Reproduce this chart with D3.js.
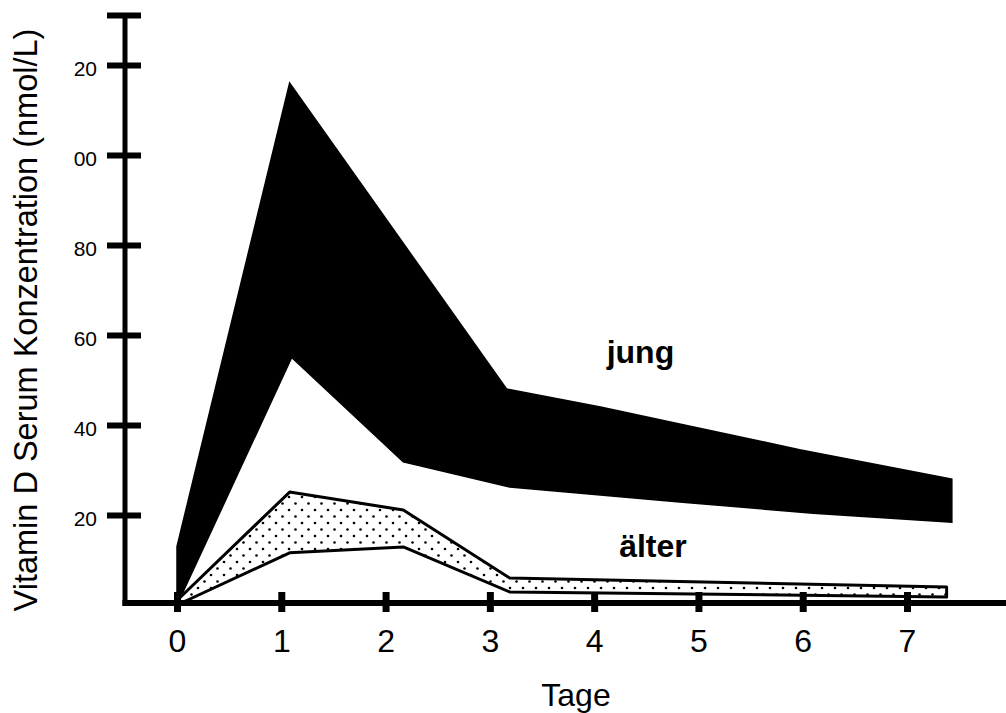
<!DOCTYPE html>
<html><head><meta charset="utf-8">
<script src="https://cdn.jsdelivr.net/npm/d3@7"></script>
<style>body{margin:0;background:#fff}</style>
</head><body><svg id="c" width="1006" height="713"></svg>
<script>
// ---- data ----
const xTickValues = [0, 1, 2, 3, 4, 5, 6, 7];
const yTickValues = [20, 40, 60, 80, 100, 120];
const yTickLabels = ["20", "40", "60", "80", "00", "20"];
const yAxisTop = 131;

const jungUpperDays = [0, 0, 1.08, 3.16, 4.06, 5.01, 5.97, 7.43];
const jungUpperVals = [0, 13, 116, 48, 44, 39.3, 34.5, 28];
const jungLowerDays = [0, 1.1, 2.17, 3.19, 4.82, 6.1, 7.43];
const jungLowerVals = [0, 55, 31.8, 26.2, 22.9, 20.4, 18.4];

const alterUpperDays = [0, 1.08, 2.17, 3.19, 7.38];
const alterUpperVals = [1, 25.1, 21.1, 6, 4];
const alterLowerDays = [0, 1.08, 2.17, 3.19, 7.38];
const alterLowerVals = [0, 11.6, 12.9, 2.9, 1.8];

const labels = [
  {text: "jung", day: 4.12, val: 53.8},
  {text: "älter", day: 4.24, val: 10.7}
];

// ---- drawing ----
const W = 1006, H = 713;
const svg = d3.select("#c");
const x = d3.scaleLinear().domain([0, 7]).range([177, 907]);
const y = d3.scaleLinear().domain([0, 120]).range([605, 65]);
const axisX = 125;
const font = "'Liberation Sans', Arial, sans-serif";

const defs = svg.append("defs");
const pat = defs.append("pattern").attr("id", "dots").attr("patternUnits", "userSpaceOnUse")
  .attr("width", 13).attr("height", 13);
pat.append("rect").attr("width", 13).attr("height", 13).attr("fill", "#fff");
pat.append("circle").attr("cx", 3).attr("cy", 3).attr("r", 1.3).attr("fill", "#000");
pat.append("circle").attr("cx", 9.5).attr("cy", 9.5).attr("r", 1.3).attr("fill", "#000");

const line = d3.line().x(d => x(d[0])).y(d => y(d[1]));
function poly(ud, uv, ld, lv) {
  const up = ud.map((d, i) => [d, uv[i]]);
  const lo = ld.map((d, i) => [d, lv[i]]).reverse();
  return line(up.concat(lo)) + "Z";
}

// jung band
svg.append("path").attr("d", poly(jungUpperDays, jungUpperVals, jungLowerDays, jungLowerVals))
  .attr("fill", "#000").attr("stroke", "#000").attr("stroke-width", 1.5).attr("stroke-linejoin", "miter");

// älter band
svg.append("path").attr("d", poly(alterUpperDays, alterUpperVals, alterLowerDays, alterLowerVals))
  .attr("fill", "url(#dots)").attr("stroke", "#000").attr("stroke-width", 3).attr("stroke-linejoin", "round");

// Y axis
svg.append("line").attr("x1", axisX).attr("x2", axisX).attr("y1", y(yAxisTop)).attr("y2", y(0) + 1)
  .attr("stroke", "#000").attr("stroke-width", 5);
svg.append("line").attr("x1", axisX - 18).attr("x2", axisX + 16).attr("y1", y(yAxisTop)).attr("y2", y(yAxisTop))
  .attr("stroke", "#000").attr("stroke-width", 6);
const yAx = svg.append("g").attr("transform", `translate(${axisX},0)`)
  .call(d3.axisLeft(y).tickValues(yTickValues).tickFormat((d, i) => yTickLabels[i]).tickSizeOuter(0));
yAx.select(".domain").remove();
yAx.selectAll(".tick line").attr("x1", 16).attr("x2", -18).attr("stroke", "#000").attr("stroke-width", 6);
yAx.selectAll(".tick text").attr("x", -28).attr("dy", "0.52em").attr("font-family", font).attr("font-size", 21).attr("fill", "#000");

// X axis
svg.append("line").attr("x1", axisX - 2.5).attr("x2", W).attr("y1", y(0) - 2).attr("y2", y(0) - 2)
  .attr("stroke", "#000").attr("stroke-width", 6);
const xAx = svg.append("g").attr("transform", `translate(0,${y(0) - 2})`)
  .call(d3.axisBottom(x).tickValues(xTickValues).tickFormat(d3.format("d")).tickSizeOuter(0));
xAx.select(".domain").remove();
xAx.selectAll(".tick line").attr("y1", -11).attr("y2", 9).attr("stroke", "#000").attr("stroke-width", 7);
xAx.selectAll(".tick text").attr("y", 49).attr("dy", 0).attr("font-family", font).attr("font-size", 32).attr("fill", "#000");

// Axis titles
svg.append("text").attr("x", 576).attr("y", 706).attr("text-anchor", "middle")
  .attr("font-family", font).attr("font-size", 32).text("Tage");
svg.append("text").attr("transform", "translate(37,320) rotate(-90)").attr("text-anchor", "middle")
  .attr("font-family", font).attr("font-size", 32.5).text("Vitamin D Serum Konzentration (nmol/L)");

// Series labels
svg.selectAll("text.lab").data(labels).enter().append("text").attr("class", "lab")
  .attr("x", d => x(d.day)).attr("y", d => y(d.val))
  .attr("font-family", font).attr("font-size", 32).attr("font-weight", "bold").text(d => d.text);
</script></body></html>
